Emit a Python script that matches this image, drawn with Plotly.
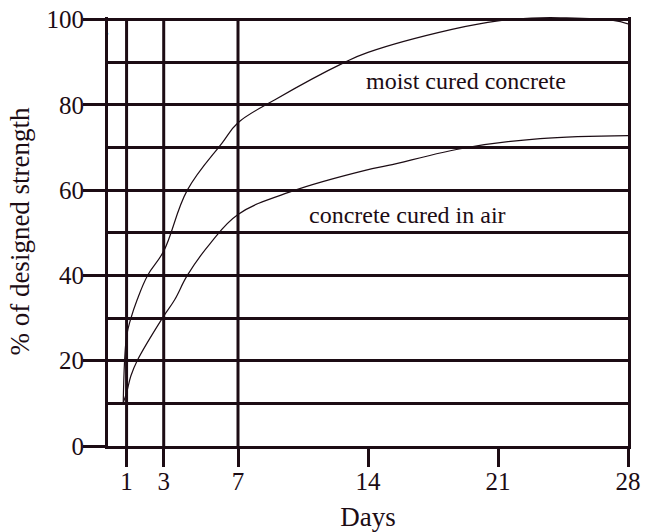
import plotly.graph_objects as go

# Strength gain of concrete with age (percent of designed strength)
moist_days = [0.82, 1.0, 1.23, 1.57, 2.13, 3.0, 4.27, 6.15, 7.0,
              8.99, 12.71, 14.0, 18.52, 21.0, 23.3, 24.4, 27.2, 28.0]
moist_strength = [10.1, 25.7, 29.9, 34.3, 40.0, 45.7, 60.0, 71.1, 75.8,
                  81.2, 89.9, 92.3, 97.7, 99.7, 100.4, 100.4, 99.8, 99.0]

air_days = [0.82, 1.0, 1.23, 1.57, 2.93, 3.59, 4.27, 5.52, 7.0,
            9.88, 13.9, 15.09, 19.33, 23.27, 28.0]
air_strength = [10.1, 12.5, 16.4, 20.0, 30.0, 34.3, 40.0, 47.6, 54.3,
                59.7, 64.7, 65.8, 70.0, 72.1, 72.8]

x_ticks = [1, 3, 7, 14, 21, 28]
y_ticks = [0, 20, 40, 60, 80, 100]
grid_days = [1, 3, 7]

INK = "#1c0c14"
FONT = "Liberation Serif, Times New Roman, serif"

fig = go.Figure()

for xs, ys in [(moist_days, moist_strength), (air_days, air_strength)]:
    fig.add_trace(go.Scatter(
        x=xs, y=ys, mode="lines",
        line=dict(color=INK, width=1.2, shape="spline", smoothing=1.1),
        showlegend=False, hoverinfo="skip",
    ))

for d in grid_days:
    fig.add_shape(type="line", xref="x", yref="y", x0=d, x1=d, y0=0, y1=100,
                  line=dict(color=INK, width=3), layer="below")

fig.add_annotation(x=19.3, y=85.6, text="moist cured concrete", showarrow=False,
                   font=dict(family=FONT, size=24, color=INK))
fig.add_annotation(x=16.1, y=54.1, text="concrete cured in air", showarrow=False,
                   font=dict(family=FONT, size=24, color=INK))
# stray dot just left of the frame, near the top
fig.add_annotation(xref="paper", x=-0.012, y=97.2, text=".", showarrow=False, yshift=4,
                   font=dict(family=FONT, size=22, color=INK))

fig.update_layout(
    width=652, height=532,
    margin=dict(l=108, r=24, t=17, b=86),
    paper_bgcolor="white", plot_bgcolor="white",
    font=dict(family=FONT, size=25, color=INK),
    xaxis=dict(
        range=[0, 28], tickvals=x_ticks, ticktext=[str(v) for v in x_ticks],
        ticks="outside", ticklen=18, tickwidth=3, tickcolor=INK,
        tickfont=dict(size=25), automargin=False, ticklabelstandoff=-7,
        showline=True, linewidth=3, linecolor=INK, mirror=False,
        showgrid=False, zeroline=False,
        title=dict(text="Days", standoff=19, font=dict(size=27)),
    ),
    yaxis=dict(
        range=[0, 100.6], tickvals=y_ticks,
        ticks="outside", ticklen=22, tickwidth=3, tickcolor=INK,
        tickfont=dict(size=25), automargin=False, ticklabelstandoff=-6,
        showline=True, linewidth=3, linecolor=INK, mirror=True,
        showgrid=True, gridcolor=INK, gridwidth=3, zeroline=False,
        minor=dict(dtick=10, showgrid=True, gridcolor=INK, gridwidth=3, ticks=""),
        title=dict(text="% of designed strength", standoff=10, font=dict(size=27)),
    ),
)

fig.write_html("out.html")
